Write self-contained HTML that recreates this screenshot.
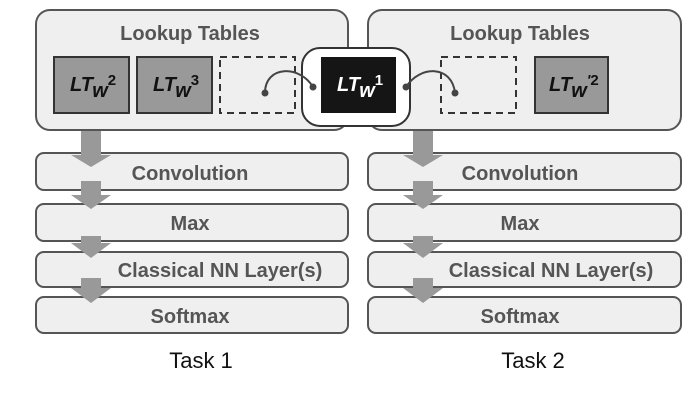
<!DOCTYPE html>
<html><head><style>body{margin:0;background:#fff}</style></head><body>
<svg width="700" height="400" viewBox="0 0 700 400" font-family="Liberation Sans, sans-serif">
<g stroke="#555" stroke-width="2" fill="#efefef">
<rect x="36" y="10" width="312" height="120" rx="14"/>
<rect x="368" y="10" width="313" height="120" rx="14"/>
<rect x="36" y="153" width="312" height="37" rx="8"/>
<rect x="36" y="204" width="312" height="37" rx="8"/>
<rect x="36" y="252" width="312" height="35" rx="8"/>
<rect x="36" y="297" width="312" height="36" rx="8"/>
<rect x="368" y="153" width="313" height="37" rx="8"/>
<rect x="368" y="204" width="313" height="37" rx="8"/>
<rect x="368" y="252" width="313" height="35" rx="8"/>
<rect x="368" y="297" width="313" height="36" rx="8"/>
</g>
<g fill="#999">
<path d="M81 131h20v24h10l-20 12l-20-12h10z"/>
<path d="M81 181h20v14h10l-20 14l-20-14h10z"/>
<path d="M81 236h20v7h10l-20 15l-20-15h10z"/>
<path d="M81 278h20v10h10l-20 15l-20-15h10z"/>
<path d="M413 131h20v24h10l-20 12l-20-12h10z"/>
<path d="M413 181h20v14h10l-20 14l-20-14h10z"/>
<path d="M413 236h20v7h10l-20 15l-20-15h10z"/>
<path d="M413 278h20v10h10l-20 15l-20-15h10z"/>
</g>
<g font-weight="bold" fill="#555" text-anchor="middle" font-size="20">
<text x="190" y="40">Lookup Tables</text>
<text x="520" y="40">Lookup Tables</text>
<text x="190" y="180">Convolution</text>
<text x="190" y="230">Max</text>
<text x="220" y="277">Classical NN Layer(s)</text>
<text x="190" y="323">Softmax</text>
<text x="520" y="180">Convolution</text>
<text x="520" y="230">Max</text>
<text x="551" y="277">Classical NN Layer(s)</text>
<text x="520" y="323">Softmax</text>
</g>
<g stroke="#333" stroke-width="2" fill="#999">
<rect x="54" y="57" width="75" height="56"/>
<rect x="137" y="57" width="75" height="56"/>
<rect x="535" y="57" width="73" height="56"/>
</g>
<g stroke="#333" stroke-width="2" fill="none" stroke-dasharray="7,5">
<rect x="220" y="57" width="75" height="56"/>
<rect x="441" y="57" width="75" height="56"/>
</g>
<rect x="302" y="48" width="108" height="78" rx="18" fill="#fff" stroke="#333" stroke-width="2"/>
<rect x="321" y="57" width="75" height="56" fill="#151515"/>
<g stroke="#444" stroke-width="2" fill="none">
<path d="M265 93 C265 65,300 65,313 87"/>
<path d="M406 87 C420 65,452 65,455 93"/>
</g>
<g fill="#444"><circle cx="265" cy="93" r="3.5"/><circle cx="313" cy="87" r="3.5"/><circle cx="406" cy="87" r="3.5"/><circle cx="455" cy="93" r="3.5"/></g>
<g font-weight="bold" font-style="italic" font-size="20">
<text x="70" y="91" fill="#111">LT<tspan dy="6">w</tspan><tspan dy="-12" font-size="15" font-style="normal">2</tspan></text>
<text x="153" y="91" fill="#111">LT<tspan dy="6">w</tspan><tspan dy="-12" font-size="15" font-style="normal">3</tspan></text>
<text x="337" y="91" fill="#fff">LT<tspan dy="6">w</tspan><tspan dy="-12" font-size="15" font-style="normal">1</tspan></text>
<text x="549" y="91" fill="#111">LT<tspan dy="6">w</tspan><tspan dy="-12" font-size="15">'</tspan><tspan font-size="15" font-style="normal">2</tspan></text>
</g>
<g font-size="22" fill="#111" text-anchor="middle">
<text x="201" y="368">Task 1</text>
<text x="533" y="368">Task 2</text>
</g>
</svg>
</body></html>
